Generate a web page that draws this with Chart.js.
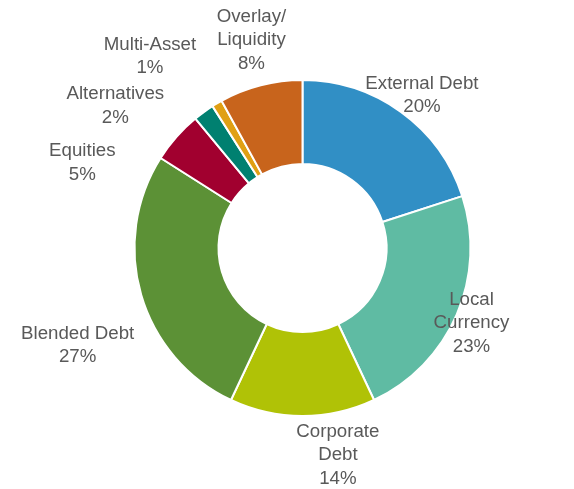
<!DOCTYPE html>
<html>
<head>
<meta charset="utf-8">
<script src="https://cdn.jsdelivr.net/npm/chart.js@4.4.1/dist/chart.umd.min.js"></script>
<style>
  html, body { margin: 0; padding: 0; background: #ffffff; }
  #wrap { width: 574px; height: 489px; position: relative; }
</style>
</head>
<body>
<div id="wrap"><canvas id="chart" width="574" height="489"></canvas></div>
<script>
// Allocation by strategy (percent of total)
const categories = [
  ["External Debt"],
  ["Local", "Currency"],
  ["Corporate", "Debt"],
  ["Blended Debt"],
  ["Equities"],
  ["Alternatives"],
  ["Multi-Asset"],
  ["Overlay/", "Liquidity"]
];
const shares = [20, 23, 14, 27, 5, 2, 1, 8];
const sliceColors = ["#318fc5", "#5fbba3", "#b0c206", "#5c9136", "#a1002f", "#008070", "#e0a014", "#c8641c"];

// Label anchor: angular shift (deg) from the slice middle and distance beyond the outer edge (px)
const labelPlacement = [
  [2, 26], [0.6, 17], [-9.7, 42], [-7.2, 77],
  [-20.3, 68], [-16.8, 67], [-7.9, 77], [0.6, 46]
];

const outsideLabels = {
  id: "outsideLabels",
  afterDatasetsDraw(chart) {
    const ctx = chart.ctx;
    const meta = chart.getDatasetMeta(0);
    ctx.save();
    ctx.font = "18.7px 'Liberation Sans', Arial, sans-serif";
    ctx.fillStyle = "#595959";
    ctx.textAlign = "center";
    ctx.textBaseline = "middle";
    const lineH = 23.5;
    meta.data.forEach((arc, i) => {
      const mid = (arc.startAngle + arc.endAngle) / 2 + labelPlacement[i][0] * Math.PI / 180;
      const r = arc.outerRadius + labelPlacement[i][1];
      const x = arc.x + r * Math.cos(mid);
      const y = arc.y + r * Math.sin(mid);
      const lines = categories[i].concat([shares[i] + "%"]);
      const top = y - (lines.length - 1) * lineH / 2;
      lines.forEach((t, k) => ctx.fillText(t, x, top + k * lineH));
    });
    ctx.restore();
  }
};

new Chart(document.getElementById("chart"), {
  type: "doughnut",
  data: {
    labels: categories.map(c => c.join(" ")),
    datasets: [{
      data: shares,
      backgroundColor: sliceColors,
      borderColor: "#ffffff",
      borderWidth: 2,
      hoverOffset: 0
    }]
  },
  options: {
    responsive: false,
    animation: false,
    cutout: "50%",
    layout: { padding: { left: 133, right: 102, top: 79, bottom: 72 } },
    plugins: {
      legend: { display: false },
      tooltip: { enabled: false }
    }
  },
  plugins: [outsideLabels]
});
</script>
</body>
</html>
